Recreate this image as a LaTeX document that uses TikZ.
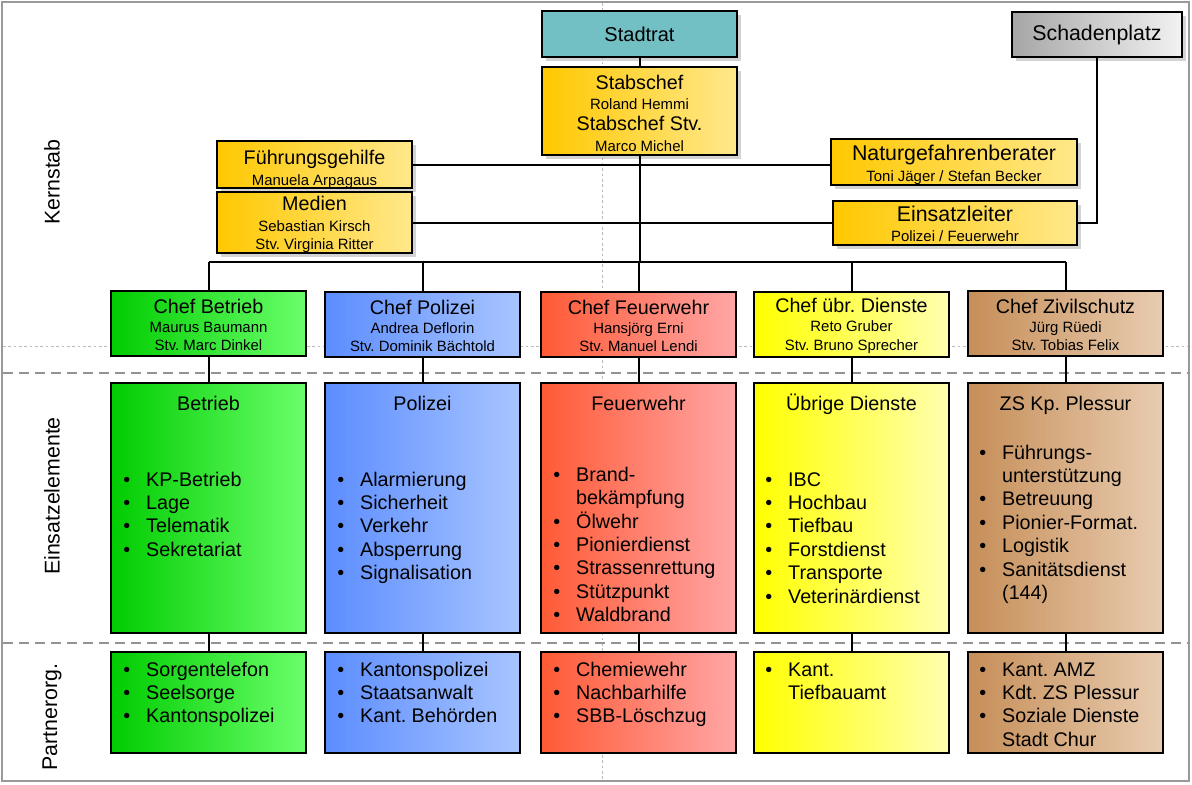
\documentclass[tikz,border=0pt]{standalone}
\usepackage{fontspec}
\setmainfont{Liberation Sans}
\usetikzlibrary{positioning, calc, shadows}
\frenchspacing

\definecolor{kernL}{HTML}{FFC800}
\definecolor{kernR}{HTML}{FFE88C}
\definecolor{ratfill}{HTML}{72BFC4}
\definecolor{grauL}{HTML}{A6A6A6}
\definecolor{grauR}{HTML}{F2F2F2}
\definecolor{gruenL}{HTML}{00CC00}
\definecolor{gruenR}{HTML}{6BFF6B}
\definecolor{blauL}{HTML}{5C8DFF}
\definecolor{blauR}{HTML}{A8C5FF}
\definecolor{rotL}{HTML}{FF5A35}
\definecolor{rotR}{HTML}{FFA6A6}
\definecolor{gelbL}{HTML}{FFFF00}
\definecolor{gelbR}{HTML}{FFFFB0}
\definecolor{braunL}{HTML}{C68E58}
\definecolor{braunR}{HTML}{E8CCB0}

\newcommand{\titelfont}{\fontsize{14.8}{15.5}\selectfont}
\newcommand{\grossfont}{\fontsize{16}{15.5}\selectfont}
\newcommand{\namefont}{\fontsize{11.2}{15.5}\selectfont}
\newcommand{\listfont}{\fontsize{14.8}{17.6}\selectfont}

\begin{document}
\begin{tikzpicture}[x=0.75pt, y=-0.75pt]
% Styles
\tikzstyle{box} = [rectangle, draw=black, line width=1.5pt, align=center, text centered, inner sep=0pt, font=\namefont]
\tikzstyle{schatten} = [drop shadow={shadow xshift=3pt, shadow yshift=-3pt, opacity=0.35}]
\tikzstyle{kern} = [box, schatten, left color=kernL, right color=kernR]
\tikzstyle{chef} = [box, minimum width=146.25pt, minimum height=48.75pt]
\tikzstyle{einsatz} = [box, minimum width=146.25pt, minimum height=187.5pt]
\tikzstyle{partner} = [box, minimum width=146.25pt, minimum height=75.75pt]
\tikzstyle{gruen} = [left color=gruenL, right color=gruenR]
\tikzstyle{blau} = [left color=blauL, right color=blauR]
\tikzstyle{rot} = [left color=rotL, right color=rotR]
\tikzstyle{gelb} = [left color=gelbL, right color=gelbR]
\tikzstyle{braun} = [left color=braunL, right color=braunR]
\tikzstyle{titel} = [anchor=base, inner sep=0pt, font=\titelfont]
\tikzstyle{liste} = [anchor=base west, inner sep=0pt, font=\listfont]
\tikzstyle{seite} = [rotate=90, inner sep=0pt, font=\fontsize{16}{18}\selectfont]
\tikzstyle{linie} = [line width=1.5pt]
\tikzstyle{trenner} = [line width=1.5pt, gray!85, dash pattern=on 7.5pt off 4.5pt]
\tikzstyle{hilfslinie} = [line width=0.4pt, gray!55, dash pattern=on 2pt off 2pt]

\useasboundingbox (0,0) rectangle (1192,785);

% frame and section lines
\coordinate (rahmenoben) at (2,2);
\coordinate (rahmenunten) at (1189,781);
\draw [line width=1.5pt, gray!80] (rahmenoben) rectangle (rahmenunten);
\coordinate (hilfo) at (602,3);
\coordinate (hilfu) at (602,780);
\draw [hilfslinie] (hilfo) -- (hilfu);
\coordinate (hilfl) at (3,346);
\coordinate (hilfr) at (1188,346);
\draw [hilfslinie] (hilfl) -- (hilfr);
\coordinate (trenn1l) at (3,373);
\coordinate (trenn1r) at (1189,373);
\draw [trenner] (trenn1l) -- (trenn1r);
\coordinate (trenn2l) at (3,643);
\coordinate (trenn2r) at (1189,643);
\draw [trenner] (trenn2l) -- (trenn2r);

\node (kernstab) [seite] at (52,182) {Kernstab};
\node (elemente) [seite] at (52,496) {Einsatzelemente};
\node (partnerorg) [seite] at (52,717) {Partnerorg.};

% Kernstab
\node (stadtrat) [box, schatten, fill=ratfill, minimum width=146.25pt, minimum height=34.5pt, font=\fontsize{15}{18}\selectfont] at (639.5,34) {Stadtrat};
\node (schaden) [box, schatten, left color=grauL, right color=grauR, minimum width=127.5pt, minimum height=33.75pt, font=\grossfont] at (1097,34.5) {Schadenplatz};
\node (stabschef) [kern, minimum width=146.25pt, minimum height=66pt] at (639.5,111) {{\titelfont\rule{0pt}{14pt}Stabschef}\\Roland Hemmi\\{\titelfont Stabschef Stv.}\\Marco Michel};
\node (fuehrung) [kern, minimum width=146.25pt, minimum height=35.25pt] at (314.5,164.5) {{\titelfont\rule{0pt}{18pt}Führungsgehilfe}\\Manuela Arpagaus};
\node (medien) [kern, minimum width=146.25pt, minimum height=44.25pt] at (314.5,222.5) {{\titelfont\rule{0pt}{14pt}Medien}\\Sebastian Kirsch\\[-2pt]Stv. Virginia Ritter};
\node (natur) [kern, minimum width=184.5pt, minimum height=33pt] at (954,162) {{\grossfont\rule{0pt}{16pt}Naturgefahrenberater}\\Toni Jäger / Stefan Becker};
\node (einsatzleiter) [kern, minimum width=183pt, minimum height=33pt] at (955,223) {{\grossfont\rule{0pt}{13pt}Einsatzleiter}\\Polizei / Feuerwehr};

\draw [linie] (stadtrat) -- (stabschef);
\draw [linie] (fuehrung.east) -- (fuehrung.east -| natur.west);
\draw [linie] (medien.east) -- (medien.east -| einsatzleiter.west);
\draw [linie] (einsatzleiter.east) -| (schaden.south);

% Chefs
\node (chefbetrieb) [chef, gruen] at (208.5,323.5) {{\titelfont\rule{0pt}{13pt}Chef Betrieb}\\[-1.5pt]Maurus Baumann\\[-1.5pt]Stv. Marc Dinkel};
\node (chefpolizei) [chef, blau] at (422.5,324.5) {{\titelfont\rule{0pt}{13pt}Chef Polizei}\\[-1.5pt]Andrea Deflorin\\[-1.5pt]Stv. Dominik Bächtold};
\node (cheffeuer) [chef, rot] at (638.5,324.5) {{\titelfont\rule{0pt}{13pt}Chef Feuerwehr}\\[-1.5pt]Hansjörg Erni\\[-1.5pt]Stv. Manuel Lendi};
\node (chefdienste) [chef, gelb] at (851.5,324.5) {{\titelfont\rule{0pt}{13pt}Chef übr. Dienste}\\[-1.5pt]Reto Gruber\\[-1.5pt]Stv. Bruno Sprecher};
\node (chefzs) [chef, braun] at (1065.5,323.5) {{\titelfont\rule{0pt}{13pt}Chef Zivilschutz}\\[-1.5pt]Jürg Rüedi\\[-1.5pt]Stv. Tobias Felix};

\coordinate (bus) at ($(stabschef.south)+(0,106)$);
\draw [linie] (stabschef) -- (stabschef.south |- bus);
\draw [linie] (chefbetrieb.north |- bus) -- (chefzs.north |- bus);
\draw [linie] (chefbetrieb.north |- bus) -- (chefbetrieb.north);
\draw [linie] (chefpolizei.north |- bus) -- (chefpolizei.north);
\draw [linie] (cheffeuer.north |- bus) -- (cheffeuer.north);
\draw [linie] (chefdienste.north |- bus) -- (chefdienste.north);
\draw [linie] (chefzs.north |- bus) -- (chefzs.north);

% Einsatzelemente
\node (ebetrieb) [einsatz, gruen] at (208.5,508) {};
\node (epolizei) [einsatz, blau] at (422.5,508) {};
\node (efeuer) [einsatz, rot] at (638.5,508) {};
\node (edienste) [einsatz, gelb] at (851.5,508) {};
\node (ezs) [einsatz, braun] at (1065.5,508) {};

\node (tbetrieb) [titel] at ($(ebetrieb.north)+(0,28)$) {Betrieb};
\node (tpolizei) [titel] at ($(epolizei.north)+(0,28)$) {Polizei};
\node (tfeuer) [titel] at ($(efeuer.north)+(0,28)$) {Feuerwehr};
\node (tdienste) [titel] at ($(edienste.north)+(0,28)$) {Übrige Dienste};
\node (tzs) [titel] at ($(ezs.north)+(0,28)$) {ZS Kp. Plessur};

\node (lbetrieb) [liste] at ($(ebetrieb.north west)+(13,104)$) {\begin{tabular}[t]{@{}l@{\hspace{12pt}}l@{}}
\textbullet & KP-Betrieb\\
\textbullet & Lage\\
\textbullet & Telematik\\
\textbullet & Sekretariat
\end{tabular}};
\node (lpolizei) [liste] at ($(epolizei.north west)+(13,104)$) {\begin{tabular}[t]{@{}l@{\hspace{12pt}}l@{}}
\textbullet & Alarmierung\\
\textbullet & Sicherheit\\
\textbullet & Verkehr\\
\textbullet & Absperrung\\
\textbullet & Signalisation
\end{tabular}};
\node (lfeuer) [liste] at ($(efeuer.north west)+(13,99)$) {\begin{tabular}[t]{@{}l@{\hspace{12pt}}l@{}}
\textbullet & Brand-\\
 & bekämpfung\\
\textbullet & Ölwehr\\
\textbullet & Pionierdienst\\
\textbullet & Strassenrettung\\
\textbullet & Stützpunkt\\
\textbullet & Waldbrand
\end{tabular}};
\node (ldienste) [liste] at ($(edienste.north west)+(12,104)$) {\begin{tabular}[t]{@{}l@{\hspace{12pt}}l@{}}
\textbullet & IBC\\
\textbullet & Hochbau\\
\textbullet & Tiefbau\\
\textbullet & Forstdienst\\
\textbullet & Transporte\\
\textbullet & Veterinärdienst
\end{tabular}};
\node (lzs) [liste] at ($(ezs.north west)+(12,77)$) {\begin{tabular}[t]{@{}l@{\hspace{12pt}}l@{}}
\textbullet & Führungs-\\
 & unterstützung\\
\textbullet & Betreuung\\
\textbullet & Pionier-Format.\\
\textbullet & Logistik\\
\textbullet & Sanitätsdienst\\
 & (144)
\end{tabular}};

\draw [linie] (chefbetrieb) -- (ebetrieb);
\draw [linie] (chefpolizei) -- (epolizei);
\draw [linie] (cheffeuer) -- (efeuer);
\draw [linie] (chefdienste) -- (edienste);
\draw [linie] (chefzs) -- (ezs);

% Partnerorganisationen
\node (pbetrieb) [partner, gruen] at (208.5,702.5) {};
\node (ppolizei) [partner, blau] at (422.5,702.5) {};
\node (pfeuer) [partner, rot] at (638.5,702.5) {};
\node (pdienste) [partner, gelb] at (851.5,702.5) {};
\node (pzs) [partner, braun] at (1065.5,702.5) {};

\node (lpbetrieb) [liste] at ($(pbetrieb.north west)+(13,25)$) {\begin{tabular}[t]{@{}l@{\hspace{12pt}}l@{}}
\textbullet & Sorgentelefon\\
\textbullet & Seelsorge\\
\textbullet & Kantonspolizei
\end{tabular}};
\node (lppolizei) [liste] at ($(ppolizei.north west)+(13,25)$) {\begin{tabular}[t]{@{}l@{\hspace{12pt}}l@{}}
\textbullet & Kantonspolizei\\
\textbullet & Staatsanwalt\\
\textbullet & Kant. Behörden
\end{tabular}};
\node (lpfeuer) [liste] at ($(pfeuer.north west)+(13,25)$) {\begin{tabular}[t]{@{}l@{\hspace{12pt}}l@{}}
\textbullet & Chemiewehr\\
\textbullet & Nachbarhilfe\\
\textbullet & SBB-Löschzug
\end{tabular}};
\node (lpdienste) [liste] at ($(pdienste.north west)+(12,25)$) {\begin{tabular}[t]{@{}l@{\hspace{12pt}}l@{}}
\textbullet & Kant.\\
 & Tiefbauamt
\end{tabular}};
\node (lpzs) [liste] at ($(pzs.north west)+(12,25)$) {\begin{tabular}[t]{@{}l@{\hspace{12pt}}l@{}}
\textbullet & Kant. AMZ\\
\textbullet & Kdt. ZS Plessur\\
\textbullet & Soziale Dienste\\
 & Stadt Chur
\end{tabular}};

\draw [linie] (ebetrieb) -- (pbetrieb);
\draw [linie] (epolizei) -- (ppolizei);
\draw [linie] (efeuer) -- (pfeuer);
\draw [linie] (edienste) -- (pdienste);
\draw [linie] (ezs) -- (pzs);

\end{tikzpicture}
\end{document}
